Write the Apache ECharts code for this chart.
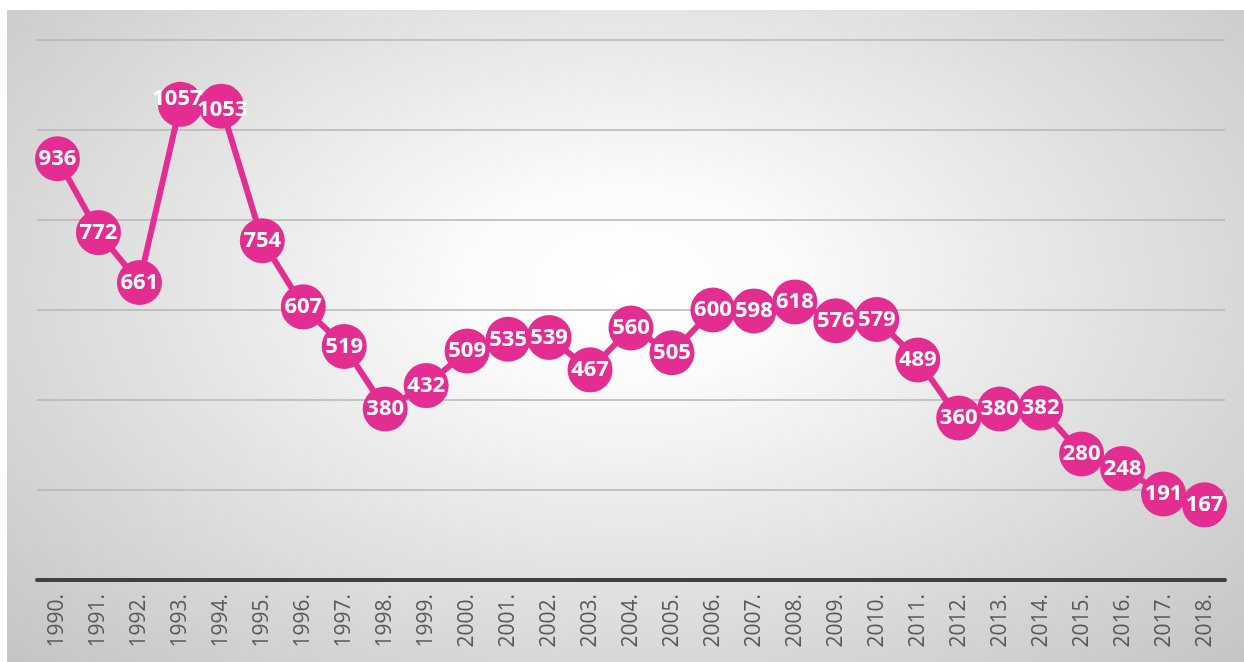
<!DOCTYPE html>
<html>
<head>
<meta charset="utf-8">
<script src="https://cdn.jsdelivr.net/npm/echarts@6/dist/echarts.min.js"></script>
<style>
  html, body { margin: 0; padding: 0; background: #fff; }
  #charts {
    position: absolute; left: 7px; top: 10px; width: 1237px; height: 652px;
    background: radial-gradient(ellipse at 50% 42%, #ffffff 0%, #fbfbfb 18%, #e2e2e2 55%, #c4c4c4 100%);
  }
</style>
</head>
<body>
<div id="charts"></div>
<script>
// years along the axis
let years = ["1990.", "1991.", "1992.", "1993.", "1994.", "1995.", "1996.", "1997.", "1998.", "1999.",
  "2000.", "2001.", "2002.", "2003.", "2004.", "2005.", "2006.", "2007.", "2008.", "2009.",
  "2010.", "2011.", "2012.", "2013.", "2014.", "2015.", "2016.", "2017.", "2018."];
// values per year
let values = [936, 772, 661, 1057, 1053, 754, 607, 519, 380, 432,
  509, 535, 539, 467, 560, 505, 600, 598, 618, 576,
  579, 489, 360, 380, 382, 280, 248, 191, 167];

// the two crowded labels are nudged a bit, like in the original
let labelShift = { 3: [-3, -6], 4: [1, 4] };

let seriesData = values.map(function (v, i) {
  let item = { value: v };
  if (labelShift[i]) item.label = { offset: labelShift[i] };
  return item;
});

let myChart = echarts.init(document.getElementById("charts"));
let option = {
  backgroundColor: "transparent",
  animation: false,
  grid: { left: 30, right: 19, top: 30, bottom: 82 },
  xAxis: {
    type: "category",
    data: years,
    boundaryGap: true,
    axisLine: { lineStyle: { color: "#404040", width: 4 } },
    axisTick: { show: false },
    axisLabel: {
      rotate: 90,
      margin: 14,
      color: "#595959",
      fontSize: 21,
      fontFamily: "Open Sans",
    },
  },
  yAxis: {
    type: "value",
    min: 0,
    max: 1200,
    interval: 200,
    axisLabel: { show: false },
    axisLine: { show: false },
    axisTick: { show: false },
    splitLine: { lineStyle: { color: "#b5b5b5", width: 1.5 } },
  },
  series: [
    {
      type: "line",
      data: seriesData,
      symbol: "circle",
      symbolSize: 45,
      itemStyle: { color: "#e32d91" },
      lineStyle: { color: "#e32d91", width: 6 },
      label: {
        show: true,
        position: "inside",
        color: "#fff",
        fontSize: 22,
        fontWeight: "bold",
        fontFamily: "Open Sans",
      },
    },
  ],
};
myChart.setOption(option);
</script>
</body>
</html>
